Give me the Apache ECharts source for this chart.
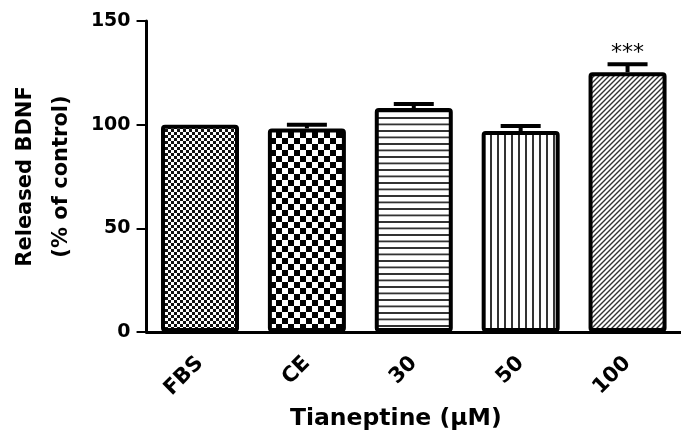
<!DOCTYPE html>
<html><head><meta charset="utf-8">
<script src="https://cdn.jsdelivr.net/npm/echarts/dist/echarts.min.js"></script>
<style>html,body{margin:0;padding:0;background:#fff}#c{width:681px;height:436px}</style>
</head><body><div id="c"></div>
<script>
const categories = ['FBS', 'CE', '30', '50', '100'];
const means = [100, 98.2, 108, 96.9, 125.3];
const errors = [0, 1.8, 2.0, 2.4, 3.8];
const significance = ['', '', '', '', '***'];
const yMin = 0, yMax = 150, yInterval = 50;
const patternKinds = ['fineCheck', 'coarseCheck', 'hLines', 'vLines', 'diag'];

function makePattern(kind) {
  const c = document.createElement('canvas');
  let w = 6, h = 6;
  if (kind === 'coarseCheck') { w = 12; h = 12; }
  if (kind === 'hLines') { w = 4; h = 13; }
  if (kind === 'vLines') { w = 7; h = 4; }
  if (kind === 'diag') { w = 5; h = 5; }
  c.width = w; c.height = h;
  const g = c.getContext('2d');
  g.fillStyle = '#fff'; g.fillRect(0, 0, w, h);
  if (kind === 'fineCheck') {
    g.fillStyle = '#111';
    g.fillRect(0, 0, 3, 3); g.fillRect(3, 3, 3, 3);
  } else if (kind === 'coarseCheck') {
    g.fillStyle = '#000';
    g.fillRect(0, 0, 6, 6); g.fillRect(6, 6, 6, 6);
  } else if (kind === 'hLines') {
    g.fillStyle = '#333';
    g.fillRect(0, 0, w, 2); g.fillRect(0, 6.5, w, 1.8);
  } else if (kind === 'vLines') {
    g.fillStyle = '#333';
    g.fillRect(0, 0, 2, h);
  } else if (kind === 'diag') {
    g.strokeStyle = '#333'; g.lineWidth = 1.4;
    g.beginPath();
    g.moveTo(-1, 6); g.lineTo(6, -1);
    g.moveTo(-1, 1); g.lineTo(1, -1);
    g.moveTo(4, 6); g.lineTo(6, 4);
    g.stroke();
  }
  return { image: c, repeat: 'repeat' };
}

const FONT = 'DejaVu Sans';
const chart = echarts.init(document.getElementById('c'));
chart.setOption({
  backgroundColor: '#fff',
  animation: false,
  grid: { left: 144, top: 21, width: 544, bottom: 103 },
  xAxis: {
    type: 'category',
    data: categories,
    name: 'Tianeptine (μM)',
    nameLocation: 'middle',
    nameGap: 75,
    nameTextStyle: { fontFamily: FONT, fontWeight: 'bold', fontSize: 23.5, color: '#000', padding: [0, 36, 0, 0] },
    axisLine: { lineStyle: { color: '#000', width: 3 } },
    axisTick: { alignWithLabel: true, length: 7, lineStyle: { color: '#000', width: 2 } },
    axisLabel: { rotate: 45, margin: 28, fontFamily: FONT, fontWeight: 'bold', fontSize: 21, color: '#000', interval: 0 }
  },
  yAxis: {
    type: 'value',
    min: yMin, max: yMax, interval: yInterval,
    name: 'Released BDNF\n(% of control)',
    nameLocation: 'middle',
    nameGap: 66,
    nameRotate: 90,
    nameTextStyle: { fontFamily: FONT, fontWeight: 'bold', fontSize: 21, lineHeight: 36, color: '#000' },
    axisLine: { show: true, lineStyle: { color: '#000', width: 3 } },
    axisTick: { show: true, length: 10, lineStyle: { color: '#000', width: 2 } },
    splitLine: { show: false },
    axisLabel: { margin: 16, fontFamily: FONT, fontWeight: 'bold', fontSize: 19, color: '#000' }
  },
  series: [
    {
      type: 'bar',
      barWidth: 78,
      data: means.map((v, i) => ({
        value: v,
        itemStyle: { color: makePattern(patternKinds[i]), borderColor: '#000', borderWidth: 4, borderRadius: 2 }
      })),
      z: 2
    },
    {
      type: 'custom',
      data: categories.map((c, i) => [i, means[i], errors[i]]),
      encode: { x: 0, y: 1 },
      z: 3,
      renderItem: function (params, api) {
        const i = api.value(0), m = api.value(1), e = api.value(2);
        const base = api.coord([i, m]);
        const top = api.coord([i, m + e]);
        const children = [];
        if (e > 0) {
          children.push({ type: 'line', shape: { x1: base[0], y1: base[1], x2: top[0], y2: top[1] }, style: { stroke: '#000', lineWidth: 4 } });
          children.push({ type: 'line', shape: { x1: top[0] - 20, y1: top[1], x2: top[0] + 20, y2: top[1] }, style: { stroke: '#000', lineWidth: 4 } });
        }
        const s = significance[i];
        if (s) {
          children.push({ type: 'text', style: { text: s, x: top[0], y: top[1] - 11, align: 'center', verticalAlign: 'middle', fontFamily: FONT, fontSize: 22, fill: '#000' } });
        }
        return { type: 'group', children: children };
      }
    }
  ]
});
</script>
</body></html>
